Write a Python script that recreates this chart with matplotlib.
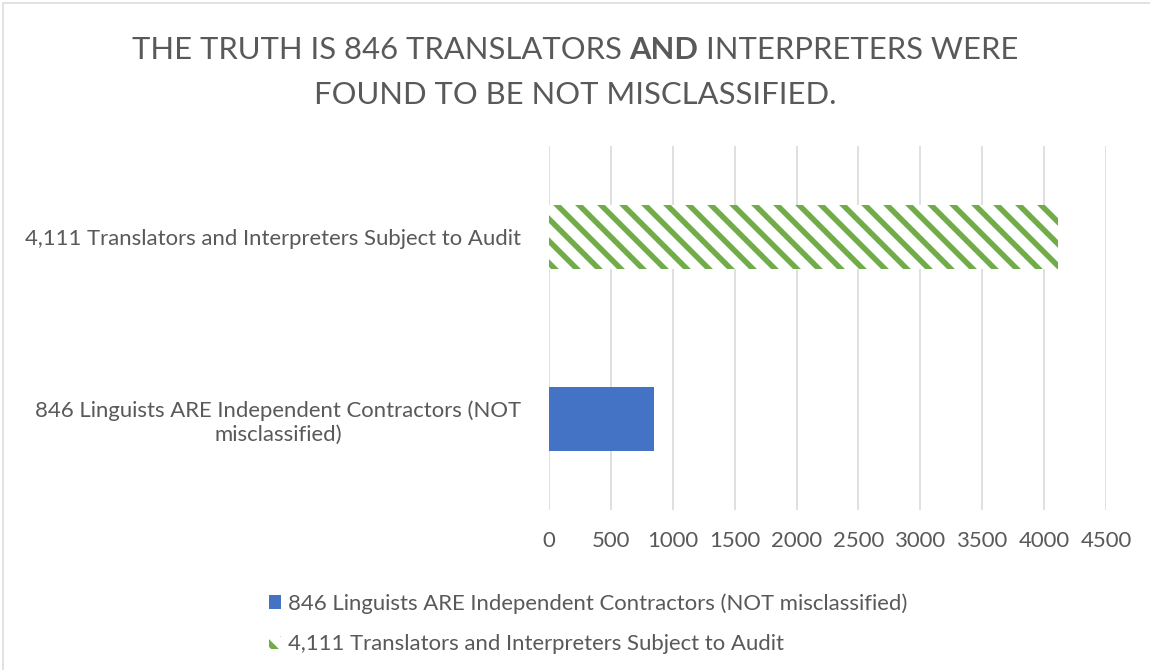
import matplotlib
matplotlib.use("Agg")
import matplotlib.pyplot as plt
from matplotlib.patches import Rectangle

# Données du graphique
categories = ["846 Linguists ARE Independent Contractors (NOT\nmisclassified)",
              "4,111 Translators and Interpreters Subject to Audit"]
series_names = ["846 Linguists ARE Independent Contractors (NOT misclassified)",
                "4,111 Translators and Interpreters Subject to Audit"]
values = [846, 4111]
x_ticks = [0, 500, 1000, 1500, 2000, 2500, 3000, 3500, 4000, 4500]
title_left = "THE TRUTH IS 846 TRANSLATORS"
title_bold = "AND"
title_right = "INTERPRETERS WERE"
title_line2 = "FOUND TO BE NOT MISCLASSIFIED."

# Taille en pixels -> points (dpi 132 pour l'espacement des hachures)
W, H, DPI = 1150, 670, 132


def pt(px):
    return px * 72 / DPI


text_color = "#595959"
plt.rcParams["font.family"] = ["Lato", "DejaVu Sans"]
plt.rcParams["hatch.linewidth"] = pt(5.5)

fig = plt.figure(figsize=(W / DPI, H / DPI), dpi=DPI)
ax = fig.add_axes([549 / W, 1 - 510 / H, (1106 - 549) / W, (510 - 146) / H])

bar_h = 0.357
blue = ax.barh(0, values[0], height=bar_h, color="#4472C4", label=series_names[0])
green = ax.barh(1, values[1], height=bar_h, facecolor="white", edgecolor="#70AD47",
                linewidth=0, hatch="\\\\", label=series_names[1])

label_px = 22.2
ax.set_xlim(0, 4500)
ax.set_ylim(-0.5, 1.5)
ax.set_xticks(x_ticks)
ax.set_xticklabels([str(t) for t in x_ticks])
ax.set_yticks([0, 1])
ax.set_yticklabels(categories, multialignment="center")
ax.tick_params(axis="both", length=0, labelsize=pt(label_px), colors=text_color)
ax.tick_params(axis="y", pad=pt(28))
ax.tick_params(axis="x", pad=pt(21))
ax.xaxis.grid(True, color="#D9D9D9", linewidth=pt(1.6))
ax.set_axisbelow(True)
for s in ax.spines.values():
    s.set_visible(False)

# Titre avec "AND" en gras
fig.canvas.draw()
r = fig.canvas.get_renderer()
tsize = pt(31)
y1 = 1 - 50 / H
parts = [(title_left, "normal"), (title_bold, "bold"), (title_right, "normal")]
tmp = [fig.text(0, y1, p, fontsize=tsize, fontweight=w) for p, w in parts]
sp = fig.text(0, y1, "A A", fontsize=tsize)
sp2 = fig.text(0, y1, "AA", fontsize=tsize)
space = sp.get_window_extent(r).width - sp2.get_window_extent(r).width
widths = [t.get_window_extent(r).width for t in tmp]
for t in tmp + [sp, sp2]:
    t.remove()
total = sum(widths) + 2 * space
x = W / 2 - total / 2
for (p, w), wd in zip(parts, widths):
    fig.text(x / W, y1, p, fontsize=tsize, fontweight=w, color=text_color,
             va="center", ha="left")
    x += wd + space
fig.text(0.5, 1 - 95 / H, title_line2, fontsize=tsize,
         color=text_color, va="center", ha="center")

# Légende
fig.legend(handles=[blue, green], loc="upper center", bbox_to_anchor=(588 / W, 1 - 582 / H),
           ncol=1, frameon=False, fontsize=pt(label_px), labelcolor=text_color,
           handlelength=0.55, handleheight=0.55, handletextpad=0.3, labelspacing=0.92,
           borderpad=0)

# Bordure de la zone de graphique
fig.patches.append(Rectangle((3 / W, -0.1), 1.2, 1.1 - 3 / H, transform=fig.transFigure,
                             fill=False, edgecolor="#D9D9D9", linewidth=pt(1.5)))

fig.savefig("out.png", dpi=DPI)
